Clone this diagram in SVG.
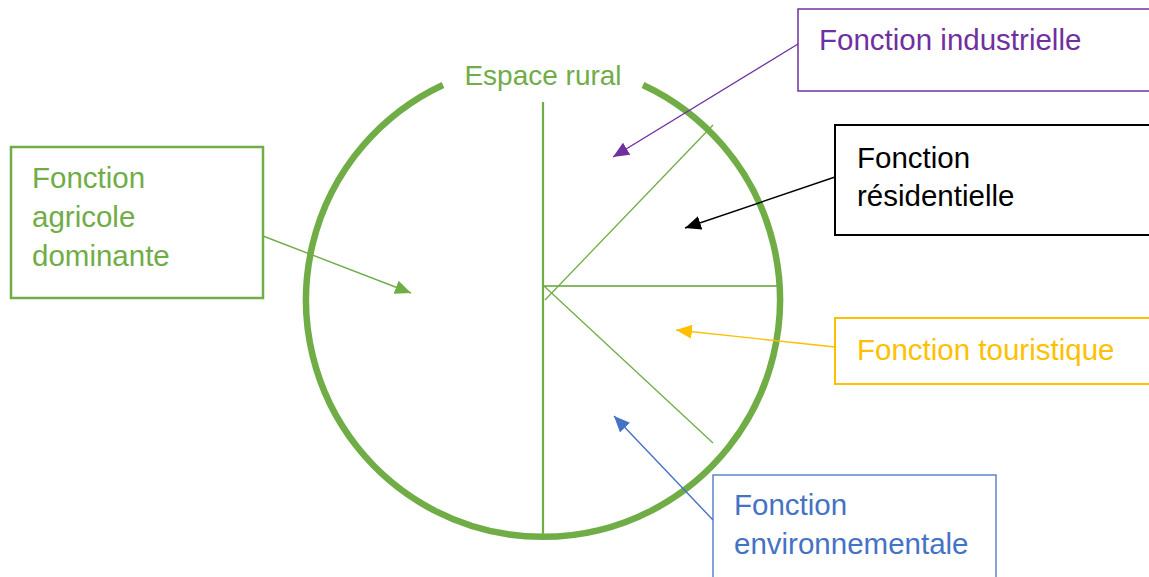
<svg xmlns="http://www.w3.org/2000/svg" width="1149" height="577" viewBox="0 0 1149 577">
<style>
text{font-family:"Liberation Sans",Arial,sans-serif;font-size:29.5px}
#espace-rural text{font-size:28px}
.box{fill:#fff}
.g{fill:#70AD47}.p{fill:#7030A0}.k{fill:#000}.y{fill:#FFC000}.b{fill:#4472C4}
.ln{stroke:#70AD47;fill:none}
</style>
<defs>
<marker id="mg" markerUnits="userSpaceOnUse" markerWidth="17" markerHeight="14" refX="16" refY="7" orient="auto"><path d="M0,0 L16,7 L0,14 z" fill="#70AD47"/></marker>
<marker id="mp" markerUnits="userSpaceOnUse" markerWidth="17" markerHeight="14" refX="16" refY="7" orient="auto"><path d="M0,0 L16,7 L0,14 z" fill="#7030A0"/></marker>
<marker id="mk" markerUnits="userSpaceOnUse" markerWidth="17" markerHeight="14" refX="16" refY="7" orient="auto"><path d="M0,0 L16,7 L0,14 z" fill="#000"/></marker>
<marker id="my" markerUnits="userSpaceOnUse" markerWidth="17" markerHeight="14" refX="16" refY="7" orient="auto"><path d="M0,0 L16,7 L0,14 z" fill="#FFC000"/></marker>
<marker id="mb" markerUnits="userSpaceOnUse" markerWidth="17" markerHeight="14" refX="16" refY="7" orient="auto"><path d="M0,0 L16,7 L0,14 z" fill="#4472C4"/></marker>
</defs>
<rect width="1149" height="577" fill="#fff"/>
<g id="espace-rural">
<path d="M443,85 A237,237 0 1 0 643,85" class="ln" stroke-width="6.5"/>
<line x1="543" y1="102" x2="543" y2="537" class="ln" stroke-width="2.2"/>
<line x1="543" y1="286" x2="779" y2="286" class="ln" stroke-width="2" stroke-opacity="0.85"/>
<line x1="545" y1="300" x2="713" y2="125" class="ln" stroke-width="1.3"/>
<line x1="544" y1="286" x2="713" y2="443" class="ln" stroke-width="1.3"/>
<text x="543" y="85" text-anchor="middle" class="g">Espace rural</text>
</g>
<g id="connectors" fill="none" stroke-width="1.4">
<line x1="263" y1="236" x2="411" y2="293" stroke="#70AD47" marker-end="url(#mg)"/>
<line x1="798" y1="44" x2="613" y2="157" stroke="#7030A0" marker-end="url(#mp)"/>
<line x1="835" y1="177" x2="685" y2="228" stroke="#000" marker-end="url(#mk)"/>
<line x1="835" y1="347" x2="676" y2="330" stroke="#FFC000" marker-end="url(#my)"/>
<line x1="713" y1="520" x2="614" y2="416" stroke="#4472C4" marker-end="url(#mb)"/>
</g>
<g id="fonction-agricole">
<rect x="11" y="147" width="252" height="151" class="box" stroke="#70AD47" stroke-width="2.5"/>
<text x="32" y="188" class="g">Fonction</text>
<text x="32" y="227" class="g">agricole</text>
<text x="32" y="266" class="g">dominante</text>
</g>
<g id="fonction-industrielle">
<rect x="798" y="9" width="360" height="82" class="box" stroke="#7030A0" stroke-width="1.5"/>
<text x="819" y="50" class="p">Fonction industrielle</text>
</g>
<g id="fonction-residentielle">
<rect x="835" y="125" width="330" height="110" class="box" stroke="#000" stroke-width="2"/>
<text x="857" y="168" class="k">Fonction</text>
<text x="857" y="206" class="k">résidentielle</text>
</g>
<g id="fonction-touristique">
<rect x="835" y="318" width="330" height="66" class="box" stroke="#FFC000" stroke-width="2"/>
<text x="857" y="360" class="y">Fonction touristique</text>
</g>
<g id="fonction-environnementale">
<rect x="713" y="475" width="283" height="120" class="box" stroke="#4472C4" stroke-width="1.3"/>
<text x="734" y="515" class="b">Fonction</text>
<text x="734" y="554" class="b">environnementale</text>
</g>
</svg>
